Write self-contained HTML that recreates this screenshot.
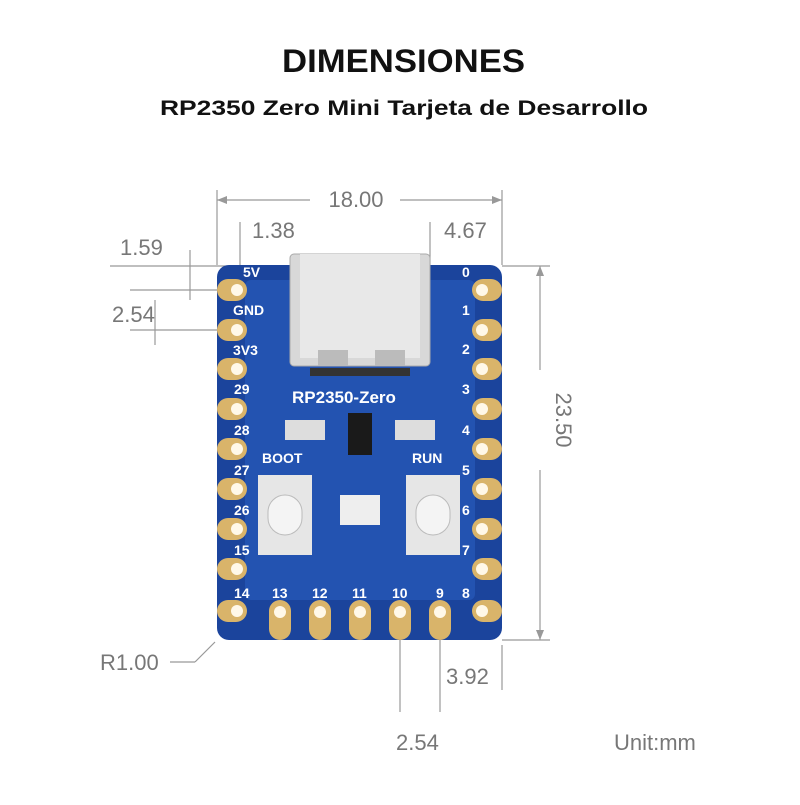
<!DOCTYPE html>
<html><head><meta charset="utf-8"><style>
body{margin:0;width:800px;height:800px;background:#fff;overflow:hidden;font-family:"Liberation Sans",sans-serif}
</style></head><body>
<svg width="800" height="800" viewBox="0 0 800 800" xmlns="http://www.w3.org/2000/svg">
<text x="282" y="72" textLength="243" lengthAdjust="spacingAndGlyphs" font-size="32" font-weight="bold" fill="#111">DIMENSIONES</text>
<text x="160" y="115" textLength="488" lengthAdjust="spacingAndGlyphs" font-size="21" font-weight="bold" fill="#111">RP2350 Zero Mini Tarjeta de Desarrollo</text>
<g stroke="#999" stroke-width="1.2" fill="none">
<line x1="217" y1="190" x2="217" y2="265"/><line x1="502" y1="190" x2="502" y2="265"/>
<line x1="217" y1="200" x2="310" y2="200"/><line x1="400" y1="200" x2="502" y2="200"/>
<line x1="240" y1="222" x2="240" y2="265"/><line x1="430" y1="222" x2="430" y2="265"/>
<line x1="110" y1="266" x2="240" y2="266"/>
<line x1="130" y1="290" x2="218" y2="290"/><line x1="130" y1="330" x2="218" y2="330"/>
<line x1="190" y1="250" x2="190" y2="300"/>
<line x1="155" y1="300" x2="155" y2="345"/>
<line x1="502" y1="266" x2="550" y2="266"/><line x1="502" y1="640" x2="550" y2="640"/>
<line x1="540" y1="266" x2="540" y2="370"/><line x1="540" y1="470" x2="540" y2="640"/>
<line x1="400" y1="640" x2="400" y2="712"/><line x1="440" y1="640" x2="440" y2="712"/>
<line x1="502" y1="645" x2="502" y2="690"/>
<line x1="170" y1="662" x2="195" y2="662"/><line x1="195" y1="662" x2="215" y2="642"/>
</g>
<g fill="#999">
<polygon points="217,200 227,196 227,204"/><polygon points="502,200 492,196 492,204"/>
<polygon points="540,266 536,276 544,276"/><polygon points="540,640 536,630 544,630"/>
</g>
<g font-size="22" fill="#777">
<text x="356" y="207" text-anchor="middle">18.00</text>
<text x="252" y="238">1.38</text>
<text x="444" y="238">4.67</text>
<text x="120" y="255">1.59</text>
<text x="112" y="322">2.54</text>
<text x="556" y="420" text-anchor="middle" transform="rotate(90 556 420)">23.50</text>
<text x="100" y="670">R1.00</text>
<text x="446" y="684">3.92</text>
<text x="396" y="750">2.54</text>
<text x="614" y="750">Unit:mm</text>
</g>
<rect x="217" y="265" width="285" height="375" rx="12" fill="#1b449c"/>
<rect x="245" y="280" width="230" height="320" rx="6" fill="#2558b6" opacity="0.8"/>
<g fill="#d9b46a">
<g id="lp">
<rect x="217" y="279" width="30" height="22" rx="11"/><rect x="217" y="319" width="30" height="22" rx="11"/>
<rect x="217" y="358" width="30" height="22" rx="11"/><rect x="217" y="398" width="30" height="22" rx="11"/>
<rect x="217" y="438" width="30" height="22" rx="11"/><rect x="217" y="478" width="30" height="22" rx="11"/>
<rect x="217" y="518" width="30" height="22" rx="11"/><rect x="217" y="558" width="30" height="22" rx="11"/>
<rect x="217" y="600" width="30" height="22" rx="11"/>
</g>
<use href="#lp" transform="translate(255 0)"/>
<rect x="269" y="600" width="22" height="40" rx="11"/><rect x="309" y="600" width="22" height="40" rx="11"/>
<rect x="349" y="600" width="22" height="40" rx="11"/><rect x="389" y="600" width="22" height="40" rx="11"/>
<rect x="429" y="600" width="22" height="40" rx="11"/>
</g>
<g fill="#fff8e8">
<circle cx="237" cy="290" r="6"/><circle cx="237" cy="330" r="6"/><circle cx="237" cy="369" r="6"/><circle cx="237" cy="409" r="6"/><circle cx="237" cy="449" r="6"/><circle cx="237" cy="489" r="6"/><circle cx="237" cy="529" r="6"/><circle cx="237" cy="569" r="6"/><circle cx="237" cy="611" r="6"/>
<circle cx="482" cy="290" r="6"/><circle cx="482" cy="330" r="6"/><circle cx="482" cy="369" r="6"/><circle cx="482" cy="409" r="6"/><circle cx="482" cy="449" r="6"/><circle cx="482" cy="489" r="6"/><circle cx="482" cy="529" r="6"/><circle cx="482" cy="569" r="6"/><circle cx="482" cy="611" r="6"/>
<circle cx="280" cy="612" r="6"/><circle cx="320" cy="612" r="6"/><circle cx="360" cy="612" r="6"/><circle cx="400" cy="612" r="6"/><circle cx="440" cy="612" r="6"/>
</g>
<rect x="290" y="254" width="140" height="112" rx="4" fill="#d8d8d8" stroke="#aaa"/>
<rect x="300" y="254" width="120" height="104" fill="#e8e8e8"/>
<rect x="318" y="350" width="30" height="16" fill="#bbb"/><rect x="375" y="350" width="30" height="16" fill="#bbb"/>
<rect x="310" y="368" width="100" height="8" fill="#333"/>
<rect x="348" y="413" width="24" height="42" fill="#1a1a1a"/>
<rect x="285" y="420" width="40" height="20" fill="#ddd"/><rect x="395" y="420" width="40" height="20" fill="#ddd"/>
<rect x="258" y="475" width="54" height="80" fill="#e6e6e6"/><rect x="268" y="495" width="34" height="40" rx="17" fill="#f4f4f4" stroke="#bbb"/>
<rect x="406" y="475" width="54" height="80" fill="#e6e6e6"/><rect x="416" y="495" width="34" height="40" rx="17" fill="#f4f4f4" stroke="#bbb"/>
<rect x="340" y="495" width="40" height="30" fill="#eee"/>
<g fill="#fff" font-size="14" font-weight="bold">
<text x="243" y="277">5V</text><text x="233" y="315">GND</text><text x="233" y="355">3V3</text>
<text x="234" y="394">29</text><text x="234" y="435">28</text><text x="234" y="475">27</text><text x="234" y="515">26</text><text x="234" y="555">15</text><text x="234" y="598">14</text>
<text x="462" y="277">0</text><text x="462" y="315">1</text><text x="462" y="354">2</text><text x="462" y="394">3</text><text x="462" y="435">4</text><text x="462" y="475">5</text><text x="462" y="515">6</text><text x="462" y="555">7</text><text x="462" y="598">8</text>
<text x="272" y="598">13</text><text x="312" y="598">12</text><text x="352" y="598">11</text><text x="392" y="598">10</text><text x="436" y="598">9</text>
<text x="262" y="463">BOOT</text><text x="412" y="463">RUN</text>
<text x="292" y="403" font-size="17">RP2350-Zero</text>
</g>
</svg>
</body></html>
